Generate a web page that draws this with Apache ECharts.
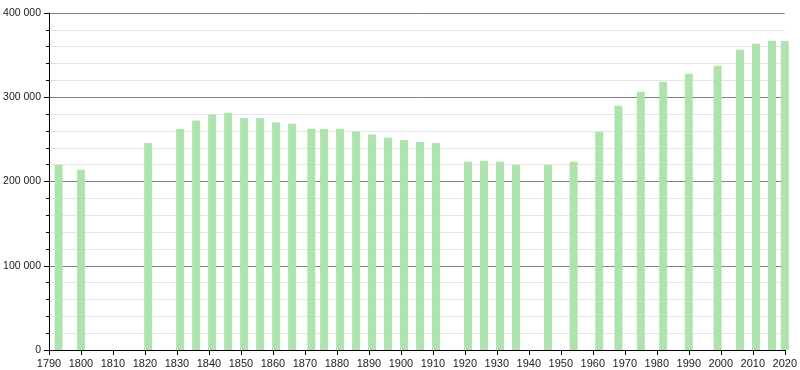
<!DOCTYPE html>
<html>
<head>
<meta charset="utf-8">
<script src="https://cdn.jsdelivr.net/npm/echarts@6/dist/echarts.min.js"></script>
<style>html,body{margin:0;padding:0;background:#fff;}#c{width:800px;height:370px;}</style>
</head>
<body>
<div id="c"></div>
<script>
var years = [1793,1800,1821,1831,1836,1841,1846,1851,1856,1861,1866,1872,1876,1881,1886,1891,1896,1901,1906,1911,1921,1926,1931,1936,1946,1954,1962,1968,1975,1982,1990,1999,2006,2011,2016,2020];
var population = [219700,213800,245800,262300,272300,279500,281700,275500,275500,270000,268600,262700,262300,262500,259300,255700,251800,249400,247000,245800,223300,224500,223300,219700,219700,223500,259100,289800,306600,318300,327800,337400,356300,363400,367000,366800];

var chart = echarts.init(document.getElementById('c'), null, {renderer: 'canvas'});
var data = years.map(function (y, i) { return [y, population[i]]; });
function fmtThousands(v) {
  return String(v).replace(/\B(?=(\d{3})+(?!\d))/g, ' ');
}
chart.setOption({
  animation: false,
  grid: {left: 49, right: 11, top: 13, bottom: 20, containLabel: false},
  xAxis: {
    type: 'value', min: 1790, max: 2020, interval: 10,
    axisLine: {show: true, onZero: false, lineStyle: {color: '#000', width: 1}},
    axisTick: {show: true, length: 5, lineStyle: {color: '#000'}},
    axisLabel: {color: '#222', fontSize: 11, fontFamily: 'Liberation Sans', margin: 8, formatter: function (v) { return String(v); }},
    splitLine: {show: false}
  },
  yAxis: {
    type: 'value', min: 0, max: 400000, interval: 100000,
    axisLine: {show: true, lineStyle: {color: '#000', width: 1}},
    axisTick: {show: true, length: 5, lineStyle: {color: '#000'}},
    minorTick: {show: true, splitNumber: 5, length: 3, lineStyle: {color: '#000'}},
    minorSplitLine: {show: true, lineStyle: {color: '#e4e4e4', width: 1}},
    splitLine: {show: true, lineStyle: {color: '#808080', width: 1}},
    axisLabel: {color: '#222', fontSize: 10.5, fontFamily: 'Liberation Sans', margin: 8, formatter: fmtThousands}
  },
  series: [{
    type: 'bar',
    data: data,
    barWidth: 8,
    clip: false,
    itemStyle: {color: '#aee3ae'}
  }]
});
</script>
</body>
</html>
